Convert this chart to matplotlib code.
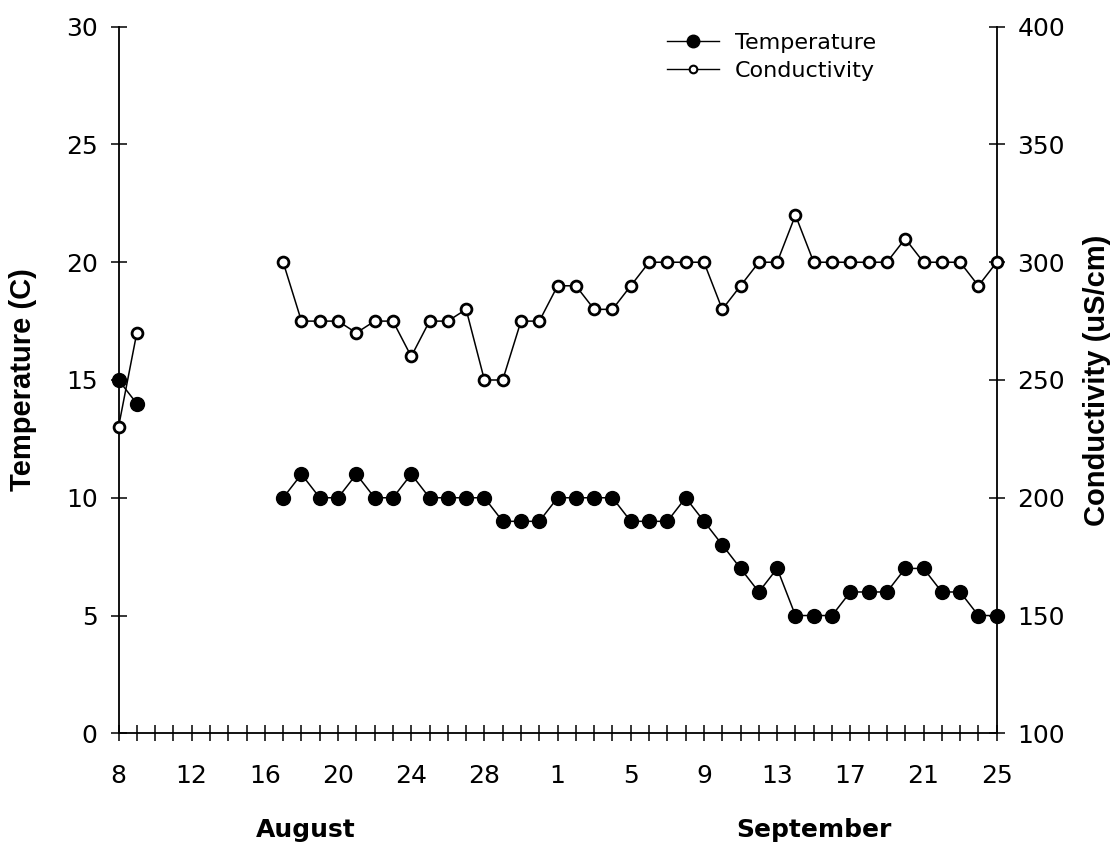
import numpy as np
import matplotlib
matplotlib.use("Agg")
import matplotlib.pyplot as plt
from matplotlib.lines import Line2D

plt.rcParams['font.family'] = ['DejaVu Sans']

# Daily series, 8 August to 25 September (no readings 10-16 August)
nan = np.nan
temperature = [15, 14, nan, nan, nan, nan, nan, nan, nan,
               10, 11, 10, 10, 11, 10, 10, 11, 10, 10, 10, 10, 9, 9, 9,
               10, 10, 10, 10, 9, 9, 9, 10, 9, 8, 7, 6, 7, 5, 5, 5, 6, 6, 6,
               7, 7, 6, 6, 5, 5]
conductivity = [230, 270, nan, nan, nan, nan, nan, nan, nan,
                300, 275, 275, 275, 270, 275, 275, 260, 275, 275, 280, 250,
                250, 275, 275,
                290, 290, 280, 280, 290, 300, 300, 300, 300, 280, 290, 300,
                300, 320, 300, 300, 300, 300, 300, 310, 300, 300, 300, 290,
                300]
day_labels = ['8', '12', '16', '20', '24', '28', '1', '5', '9', '13', '17',
              '21', '25']
month_labels = ['August', 'September']

days = np.arange(len(temperature))

fig = plt.figure(figsize=(11.2, 8.48), dpi=100)
ax = fig.add_axes([118.5 / 1120, (848 - 733.3) / 848, 878.2 / 1120,
                   706.6 / 848])
ax2 = ax.twinx()

line_kw = dict(color='black', linewidth=1.1, zorder=3, clip_on=False)
ax.plot(days, temperature, marker='o', markersize=10, markerfacecolor='black',
        markeredgecolor='black', **line_kw)
ax2.plot(days, conductivity, marker='o', markersize=7.8,
         markerfacecolor='white', markeredgecolor='black',
         markeredgewidth=2.0, **line_kw)

ax.set_xlim(0, len(days) - 1)
ax.set_ylim(0, 30)
ax2.set_ylim(100, 400)

for a in (ax, ax2):
    a.spines['top'].set_visible(False)
    for s in a.spines.values():
        s.set_linewidth(1.3)
ax.spines['right'].set_visible(False)
ax2.spines['left'].set_visible(False)
ax2.spines['bottom'].set_visible(False)

ax.set_xticks(days, minor=True)
ax.set_xticks(days[::4])
ax.set_xticklabels(day_labels)
ax.tick_params(axis='x', which='both', direction='inout', length=12,
               width=1.1, labelsize=18, pad=16)
ax.set_yticks(np.arange(0, 31, 5))
ax.tick_params(axis='y', direction='inout', length=12, width=1.1,
               labelsize=18, pad=9)
ax2.set_yticks(np.arange(100, 401, 50))
ax2.tick_params(axis='y', direction='inout', length=12, width=1.1,
                labelsize=18, pad=9)

label_font = dict(fontsize=21, fontweight='bold',
                  family=['Liberation Sans Narrow', 'Liberation Sans'])
ax.set_ylabel('Temperature (C)', **label_font)
ax.yaxis.set_label_coords(-0.093, 0.5)
ax2.set_ylabel('Conductivity (uS/cm)', **label_font)
ax2.yaxis.set_label_coords(1.098, 0.5)

ax.text(10.25, -0.137, month_labels[0], transform=ax.get_xaxis_transform(),
        ha='center', va='center', fontsize=18, fontweight='bold')
ax.text(38, -0.137, month_labels[1], transform=ax.get_xaxis_transform(),
        ha='center', va='center', fontsize=18, fontweight='bold')

handles = [
    Line2D([], [], color='black', linewidth=1, marker='o', markersize=9,
           markerfacecolor='black', markeredgecolor='black'),
    Line2D([], [], color='black', linewidth=1, marker='o', markersize=5.5,
           markerfacecolor='white', markeredgecolor='black',
           markeredgewidth=1.5),
]
leg = fig.legend(handles, ['Temperature', 'Conductivity'], loc='center left',
                 bbox_to_anchor=(667 / 1120, 1 - 57 / 848),
                 bbox_transform=fig.transFigure, frameon=False, fontsize=16,
                 borderpad=0, borderaxespad=0, handlelength=2.35,
                 handletextpad=0.7, labelspacing=0.35)

fig.savefig('out.png', dpi=100)
